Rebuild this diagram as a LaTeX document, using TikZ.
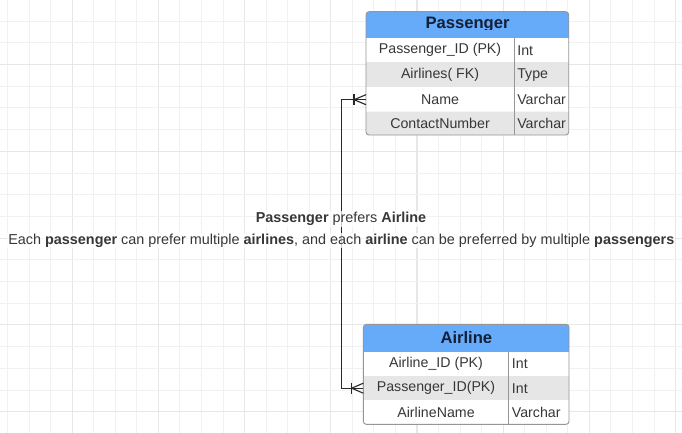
\documentclass[tikz,border=0pt]{standalone}
\usepackage{fontspec}
\setmainfont{Liberation Sans}
\usetikzlibrary{calc}
\definecolor{hdrblue}{RGB}{102,170,250}
\definecolor{hdrtext}{RGB}{20,32,56}
\definecolor{rowgrey}{RGB}{230,230,230}
\definecolor{edgegrey}{RGB}{150,150,150}
\definecolor{txtgrey}{RGB}{55,55,55}
\definecolor{gridminor}{RGB}{241,241,241}
\definecolor{gridmajor}{RGB}{231,231,231}
\definecolor{linedark}{RGB}{40,40,40}
\tikzset{
  minorline/.style={draw=gridminor, line width=0.9pt},
  majorline/.style={draw=gridmajor, line width=1.1pt},
  hdr/.style={fill=hdrblue, rounded corners=3pt, text=hdrtext, font=\fontsize{16.6}{18}\selectfont\bfseries, inner sep=0pt},
  namecell/.style={anchor=north west, inner sep=0pt, text=txtgrey, font=\fontsize{14.2}{16}\selectfont},
  typecell/.style={anchor=west, inner sep=0pt, text=txtgrey, font=\fontsize{14.2}{16}\selectfont},
  outline/.style={draw=edgegrey, line width=0.9pt, rounded corners=3pt},
  divider/.style={draw=edgegrey, line width=0.9pt},
  erline/.style={draw=linedark, line width=1.1pt},
  lbl/.style={inner sep=1pt, fill=white, fill opacity=0.75, text opacity=1, text=txtgrey, font=\fontsize{14.4}{16}\selectfont}
}
\begin{document}
\begin{tikzpicture}[x=1pt,y=-1pt]
\useasboundingbox (0,0) rectangle (682,433);
\fill[white] (0,0) rectangle (682,433);
% grid
\foreach \k in {0,...,31} {
  \pgfmathtruncatemacro{\m}{mod(\k,4)}
  \ifnum\m=3 \draw[majorline] (7.5+21.55*\k,0) -- ++(0,433);
  \else \draw[minorline] (7.5+21.55*\k,0) -- ++(0,433); \fi
}
\foreach \k in {1,...,20} {
  \pgfmathtruncatemacro{\m}{mod(\k,4)}
  \ifnum\m=3 \draw[majorline] (0,-0.6+21.7*\k) -- ++(682,0);
  \else \draw[minorline] (0,-0.6+21.7*\k) -- ++(682,0); \fi
}

% ---------- Passenger table ----------
\fill[white, rounded corners=3pt] (366,11.7) rectangle (568.7,135);
\fill[rowgrey] (366,62.3) rectangle (568.7,87.3);
\fill[rowgrey, rounded corners=3pt] (366,111.7) rectangle (568.7,135);
\fill[rowgrey] (366,111.7) rectangle (568.7,125);
\node[hdr, minimum width=202.7pt, minimum height=26pt, anchor=north west] (ph) at (366,11.7) {Passenger};
\fill[hdrblue] (366,30) rectangle (568.7,37.7);
\node[namecell, minimum width=147.7pt, minimum height=24.6pt] (p1) at (366,37.7) {Passenger\_ID (PK)};
\node[namecell, minimum width=147.7pt, minimum height=25pt] (p2) at (366,62.3) {Airlines( FK)};
\node[namecell, minimum width=147.7pt, minimum height=24.4pt] (p3) at (366,87.3) {Name};
\node[namecell, minimum width=147.7pt, minimum height=23.3pt] (p4) at (366,111.7) {ContactNumber};
\node[typecell] (pt1) at ($(p1.east)+(3,0)$) {Int};
\node[typecell] (pt2) at ($(p2.east)+(3,0)$) {Type};
\node[typecell] (pt3) at ($(p3.east)+(3,0)$) {Varchar};
\node[typecell] (pt4) at ($(p4.east)+(3,0)$) {Varchar};
\draw[divider] (p1.north east) -- (p4.south east);
\draw[outline] (366,11.7) rectangle (568.7,135);

% ---------- Airline table ----------
\fill[white, rounded corners=3pt] (363.3,324.3) rectangle (569,424.3);
\fill[rowgrey] (363.3,376) rectangle (569,400);
\node[hdr, minimum width=205.7pt, minimum height=26pt, anchor=north west] (ah) at (363.3,324.3) {Airline};
\fill[hdrblue] (363.3,343) rectangle (569,351.7);
\node[namecell, minimum width=145pt, minimum height=24.3pt] (a1) at (363.3,351.7) {Airline\_ID (PK)};
\node[namecell, minimum width=145pt, minimum height=24pt] (a2) at (363.3,376) {Passenger\_ID(PK)};
\node[namecell, minimum width=145pt, minimum height=24.3pt] (a3) at (363.3,400) {AirlineName};
\node[typecell] (at1) at ($(a1.east)+(3,0)$) {Int};
\node[typecell] (at2) at ($(a2.east)+(3,0)$) {Int};
\node[typecell] (at3) at ($(a3.east)+(3,0)$) {Varchar};
\draw[divider] (a1.north east) -- (a3.south east);
\draw[outline] (363.3,324.3) rectangle (569,424.3);

% ---------- connector ----------
\draw[erline] (p3.west) -- ++(-24.3,0) coordinate (bend1) |- (a2.west);
% crow's feet (one-or-many)
\draw[erline] ($(p3.west)+(-12,-5.5)$) -- ($(p3.west)+(-12,5.5)$);
\draw[erline] ($(p3.west)+(-12,0)$) -- ($(p3.west)+(0,-5)$);
\draw[erline] ($(p3.west)+(-12,0)$) -- ($(p3.west)+(0,5)$);
\draw[erline] ($(a2.west)+(-11.6,-5.5)$) -- ($(a2.west)+(-11.6,5.5)$);
\draw[erline] ($(a2.west)+(-11.6,0)$) -- ($(a2.west)+(0,-5)$);
\draw[erline] ($(a2.west)+(-11.6,0)$) -- ($(a2.west)+(0,5)$);

% ---------- label ----------
\node[lbl] (l1) at (341,219) {\textbf{Passenger} prefers \textbf{Airline}};
\node[lbl] (l2) at (341.3,240.5) {Each \textbf{passenger} can prefer multiple \textbf{airlines}, and each \textbf{airline} can be preferred by multiple \textbf{passengers}};
\end{tikzpicture}
\end{document}
